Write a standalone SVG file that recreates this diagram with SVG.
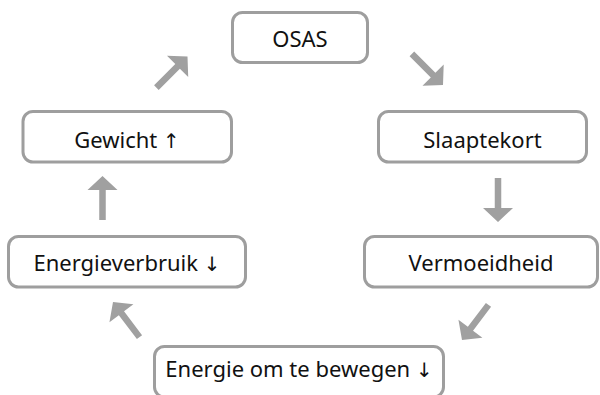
<svg xmlns="http://www.w3.org/2000/svg" xmlns:xlink="http://www.w3.org/1999/xlink" width="600" height="395" viewBox="0 0 600 395">
<style>
.box{fill:#ffffff;stroke:#9e9e9e;stroke-width:3}
.lbl{font-family:"Noto Sans","Open Sans",sans-serif;font-size:22px;fill:#111111;text-anchor:middle}
.sym{font-family:"DejaVu Sans",sans-serif;font-size:20px;fill:#111111}
.arr{fill:#a0a0a0}
</style>
<defs>
<path id="arrow" d="M0,0 L-14,-15 L-14,-3.25 L-44,-3.25 L-44,3.25 L-14,3.25 L-14,15 Z"/>
</defs>
<rect width="600" height="395" fill="#ffffff"/>
<g id="connectors" class="arr">
<use xlink:href="#arrow" href="#arrow" transform="translate(187.5,56.5) rotate(-45)"/>
<use xlink:href="#arrow" href="#arrow" transform="translate(443,85) rotate(45)"/>
<use xlink:href="#arrow" href="#arrow" transform="translate(498,222) rotate(90)"/>
<use xlink:href="#arrow" href="#arrow" transform="translate(462,340) rotate(127)"/>
<use xlink:href="#arrow" href="#arrow" transform="translate(113,302) rotate(-127)"/>
<use xlink:href="#arrow" href="#arrow" transform="translate(102.5,176) rotate(-90)"/>
</g>
<g id="osas">
<rect class="box" x="232.5" y="12.5" width="135" height="50" rx="10"/>
<text class="lbl" x="300" y="46.5">OSAS</text>
</g>
<g id="slaaptekort">
<rect class="box" x="378.5" y="111.5" width="208" height="50.5" rx="10"/>
<text class="lbl" x="482.5" y="148">Slaaptekort</text>
</g>
<g id="vermoeidheid">
<rect class="box" x="364.5" y="236.5" width="233" height="50.5" rx="10"/>
<text class="lbl" x="481" y="270.5">Vermoeidheid</text>
</g>
<g id="energie-om-te-bewegen">
<rect class="box" x="154.5" y="346.5" width="289" height="50.5" rx="10"/>
<text class="lbl" x="299" y="377">Energie om te bewegen <tspan class="sym">↓</tspan></text>
</g>
<g id="energieverbruik">
<rect class="box" x="8.5" y="236.5" width="237" height="50.5" rx="10"/>
<text class="lbl" x="127" y="271">Energieverbruik <tspan class="sym">↓</tspan></text>
</g>
<g id="gewicht">
<rect class="box" x="23" y="111.5" width="208.5" height="50.5" rx="10"/>
<text class="lbl" x="127" y="148">Gewicht <tspan class="sym">↑</tspan></text>
</g>
</svg>
